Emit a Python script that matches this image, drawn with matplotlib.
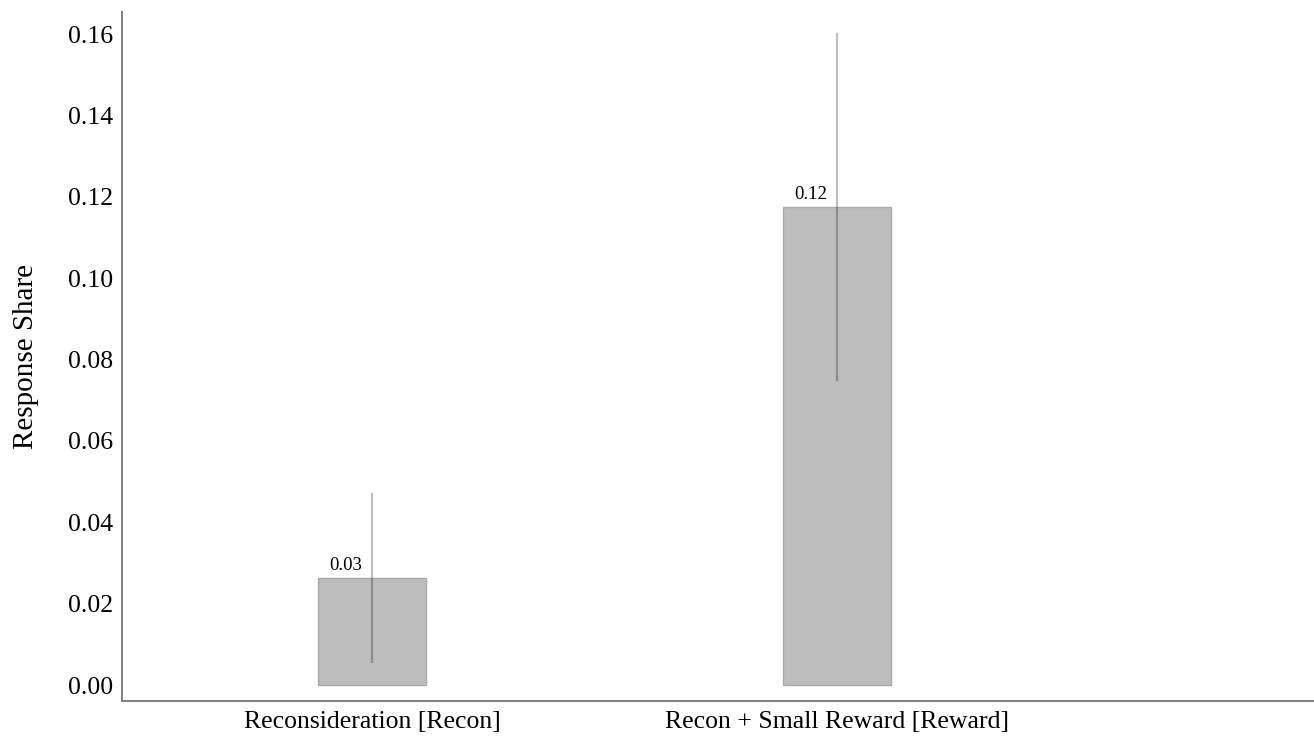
import matplotlib.pyplot as plt

plt.rcParams['font.family'] = ['Liberation Serif', 'DejaVu Serif']

# Datos
categories = ["Reconsideration [Recon]", "Recon + Small Reward [Reward]"]
shares = [0.0263, 0.1174]
ci_low = [0.0057, 0.0749]
ci_high = [0.0469, 0.1600]
labels = ["0.03", "0.12"]

x = list(range(len(categories)))

fig = plt.figure(figsize=(13.14, 7.38), dpi=100)
ax = fig.add_axes([0.0928, 0.0501, 0.9072, 0.9336])

ax.bar(x, shares, width=0.232, color='#bdbdbd', edgecolor='#a9a9a9', linewidth=1.0)

# Intervalos de confianza
for xi, lo, hi in zip(x, ci_low, ci_high):
    ax.plot([xi, xi], [lo, hi], color='black', alpha=0.25, linewidth=1.6)

for xi, v, t in zip(x, shares, labels):
    ax.annotate(t, (xi, v), xytext=(-7, 3), textcoords='offset points',
                ha='right', va='bottom', fontsize=13.5)

ax.set_xlim(-0.538, 2.026)
ax.set_ylim(-0.0039, 0.1654)
ax.set_xticks(x)
ax.set_xticklabels(categories)
ax.set_yticks([0.00, 0.02, 0.04, 0.06, 0.08, 0.10, 0.12, 0.14, 0.16])
ax.set_yticklabels([f"{v:.2f}" for v in ax.get_yticks()])
ax.tick_params(length=0, labelsize=18.5, pad=6)
ax.tick_params(axis='x', pad=7)
ax.set_ylabel("Response Share", fontsize=21, labelpad=21)

for s in ['top', 'right']:
    ax.spines[s].set_visible(False)
for s in ['left', 'bottom']:
    ax.spines[s].set_color('#808080')
    ax.spines[s].set_linewidth(1.4)

fig.savefig('out.png', dpi=100)
